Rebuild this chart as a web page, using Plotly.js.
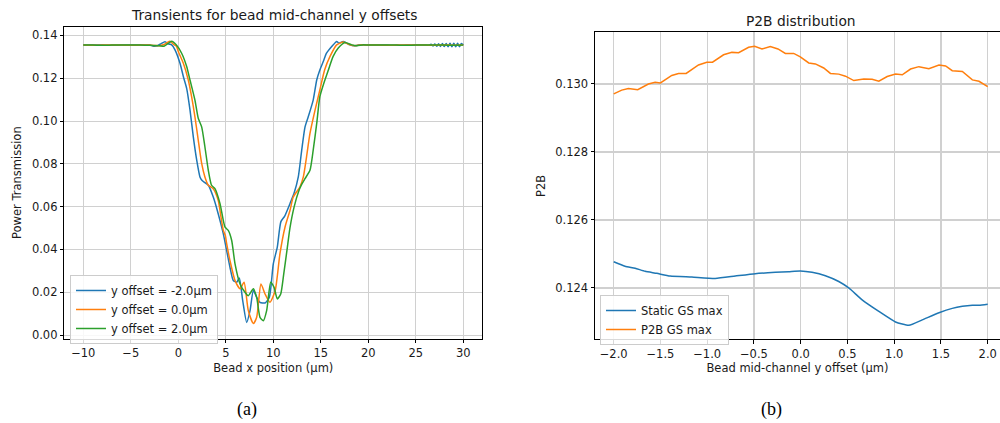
<!DOCTYPE html>
<html>
<head>
<meta charset="utf-8">
<script src="https://cdn.plot.ly/plotly-3.0.1.min.js"></script>
<style>html,body{margin:0;padding:0;background:#fff;}#chart{width:1000px;height:423px;}</style>
</head>
<body>
<div id="chart"></div>
<script>
// ---------- Panel (a): transients ----------
const seriesNamesA = ["y offset = -2.0µm", "y offset = 0.0µm", "y offset = 2.0µm"];

const blueX = [-10, -9, -8, -7, -6, -5, -4, -3, -2.6, -2.2, -1.8, -1.4, -1.0, -0.7, -0.35, 0.18, 0.53, 0.88, 1.23, 1.58, 1.94, 2.28, 2.46, 2.8, 3.16, 3.68, 4.2, 4.74, 5.09, 5.44, 5.79, 6.15, 6.42, 6.78, 7.2, 7.55, 7.9, 8.25, 8.6, 9.13, 9.58, 10.0, 10.42, 10.8, 11.2, 11.76, 12.2, 12.63, 12.99, 13.34, 13.68, 14.2, 14.57, 14.9, 15.26, 15.6, 16.15, 16.67, 16.9, 17.37, 18.07, 18.5, 19, 20, 21, 22, 23, 24, 25, 26, 26.4, 26.6, 26.8, 27.0, 27.2, 27.4, 27.6, 27.8, 28.0, 28.2, 28.4, 28.6, 28.8, 29.0, 29.2, 29.4, 29.6, 29.8, 30.0];
const blueY = [0.1355, 0.1356, 0.1355, 0.1354, 0.1355, 0.1356, 0.1355, 0.1355, 0.1350, 0.1352, 0.1362, 0.1371, 0.1360, 0.1356, 0.1333, 0.1270, 0.1208, 0.1153, 0.1052, 0.0926, 0.0817, 0.0739, 0.0725, 0.0712, 0.0700, 0.0645, 0.0567, 0.0473, 0.0395, 0.0317, 0.0255, 0.0247, 0.0267, 0.0161, 0.0059, 0.0114, 0.0208, 0.0176, 0.0153, 0.0150, 0.0176, 0.0333, 0.0411, 0.0530, 0.0556, 0.0615, 0.0665, 0.0739, 0.0864, 0.0973, 0.1020, 0.1098, 0.1192, 0.1239, 0.1278, 0.1317, 0.1348, 0.1372, 0.1364, 0.1372, 0.1356, 0.1352, 0.1355, 0.1355, 0.1356, 0.1355, 0.1354, 0.1355, 0.1356, 0.1355, 0.1355, 0.1359, 0.1351, 0.1360, 0.1350, 0.1361, 0.1349, 0.1362, 0.1348, 0.1363, 0.1347, 0.1364, 0.1347, 0.1364, 0.1347, 0.1364, 0.1347, 0.1363, 0.1356];

const orangeX = [-10, -9, -8, -7, -6, -5, -4, -3, -2.4, -2.0, -1.5, -1.2, -0.87, -0.5, -0.2, 0, 0.53, 1.05, 1.4, 1.75, 2.1, 2.46, 2.8, 3.16, 3.68, 4.2, 4.5, 4.74, 4.95, 5.09, 5.44, 5.97, 6.5, 6.92, 7.37, 7.9, 8.25, 8.7, 9.13, 9.65, 10.2, 10.7, 11.23, 11.76, 12.1, 12.8, 13.16, 13.5, 13.86, 14.4, 14.9, 15.4, 15.97, 16.67, 17.37, 18.07, 18.6, 19.2, 20, 21, 22, 23, 24, 25, 26, 27, 28, 29, 30];
const orangeY = [0.1355, 0.1354, 0.1355, 0.1356, 0.1355, 0.1354, 0.1355, 0.1355, 0.1353, 0.1352, 0.1358, 0.1366, 0.1373, 0.1358, 0.1350, 0.1325, 0.1270, 0.1192, 0.1114, 0.1020, 0.0911, 0.0802, 0.0739, 0.0700, 0.0684, 0.0630, 0.0550, 0.0489, 0.0465, 0.0427, 0.0348, 0.0255, 0.0216, 0.0247, 0.0114, 0.0054, 0.0083, 0.0239, 0.0192, 0.0153, 0.0208, 0.0380, 0.0504, 0.0583, 0.0645, 0.0692, 0.0739, 0.0833, 0.0942, 0.1052, 0.1145, 0.1239, 0.1302, 0.1356, 0.1369, 0.1356, 0.1352, 0.1356, 0.1355, 0.1355, 0.1354, 0.1355, 0.1356, 0.1355, 0.1355, 0.1354, 0.1356, 0.1354, 0.1355];

const greenX = [-10, -9, -8, -7, -6, -5, -4, -3, -2.0, -1.5, -1.1, -0.7, -0.2, 0.35, 0.88, 1.23, 1.75, 2.1, 2.46, 2.8, 3.16, 3.5, 3.86, 4.39, 4.92, 5.26, 5.62, 5.97, 6.5, 7.02, 7.37, 7.9, 8.25, 8.6, 8.95, 9.3, 9.73, 10.08, 10.42, 10.78, 11.1, 11.45, 11.75, 12.2, 12.7, 13.0, 13.34, 13.86, 14.2, 14.57, 14.9, 15.26, 15.8, 16.3, 16.84, 17.55, 18.25, 18.8, 19.4, 20, 21, 22, 23, 24, 25, 26, 27, 28, 29, 30];
const greenY = [0.1355, 0.1355, 0.1354, 0.1355, 0.1356, 0.1355, 0.1355, 0.1354, 0.1352, 0.1350, 0.1362, 0.1373, 0.1355, 0.1317, 0.1255, 0.1192, 0.1098, 0.1013, 0.0973, 0.0880, 0.0770, 0.0700, 0.0684, 0.0614, 0.0504, 0.0489, 0.0442, 0.0333, 0.0239, 0.0200, 0.0184, 0.0216, 0.0176, 0.0083, 0.0067, 0.0114, 0.0247, 0.0223, 0.0169, 0.0192, 0.0286, 0.0400, 0.0500, 0.0600, 0.0675, 0.0705, 0.0731, 0.0770, 0.0864, 0.0989, 0.1114, 0.1169, 0.1239, 0.1302, 0.1341, 0.1367, 0.1356, 0.1352, 0.1356, 0.1355, 0.1355, 0.1356, 0.1355, 0.1354, 0.1355, 0.1355, 0.1356, 0.1355, 0.1354, 0.1355];

const xTicksA = [-10, -5, 0, 5, 10, 15, 20, 25, 30];
const yTicksA = [0.00, 0.02, 0.04, 0.06, 0.08, 0.10, 0.12, 0.14];

// ---------- Panel (b): P2B distribution ----------
const seriesNamesB = ["Static GS max", "P2B GS max"];

const staticX = [-2.0, -1.879, -1.771, -1.664, -1.539, -1.396, -1.164, -0.914, -0.7, -0.486, -0.271, -0.129, -0.004, 0.121, 0.264, 0.407, 0.514, 0.657, 0.836, 1.014, 1.157, 1.3, 1.479, 1.621, 1.729, 1.836, 1.907, 2.0];
const staticY = [0.12477, 0.12464, 0.12458, 0.12449, 0.12443, 0.12435, 0.12432, 0.12428, 0.12435, 0.12442, 0.12446, 0.12448, 0.12450, 0.12446, 0.12436, 0.12419, 0.12400, 0.12365, 0.12331, 0.12300, 0.12290, 0.12306, 0.12327, 0.12340, 0.12346, 0.12349, 0.12349, 0.12352];

const p2bX = [-2.0, -1.914, -1.843, -1.743, -1.629, -1.557, -1.5, -1.379, -1.307, -1.225, -1.093, -1.004, -0.943, -0.825, -0.736, -0.664, -0.557, -0.493, -0.414, -0.325, -0.243, -0.164, -0.075, -0.004, 0.086, 0.157, 0.246, 0.318, 0.407, 0.479, 0.568, 0.675, 0.764, 0.836, 0.925, 1.014, 1.086, 1.175, 1.264, 1.371, 1.479, 1.55, 1.621, 1.729, 1.836, 1.907, 2.0];
const p2bY = [0.12971, 0.12982, 0.12987, 0.12983, 0.13000, 0.13005, 0.13003, 0.13025, 0.13031, 0.13031, 0.13056, 0.13064, 0.13064, 0.13086, 0.13093, 0.13092, 0.13108, 0.13111, 0.13103, 0.13110, 0.13103, 0.13090, 0.13090, 0.13080, 0.13062, 0.13059, 0.13047, 0.13031, 0.13029, 0.13023, 0.13010, 0.13015, 0.13014, 0.13008, 0.13022, 0.13029, 0.13027, 0.13044, 0.13051, 0.13045, 0.13056, 0.13053, 0.13039, 0.13037, 0.13012, 0.13008, 0.12992];

const xTicksB = [-2.0, -1.5, -1.0, -0.5, 0.0, 0.5, 1.0, 1.5, 2.0];
const yTicksB = [0.124, 0.126, 0.128, 0.130];

// ---------- styling ----------
const C_BLUE = '#1f77b4', C_ORANGE = '#ff7f0e', C_GREEN = '#2ca02c';
const FONT = 'DejaVu Sans, Liberation Sans, sans-serif';
const TXT = '#1a1a1a';
const FS = 11.5;

const traces = [
  {x: blueX, y: blueY, name: seriesNamesA[0], type: 'scatter', mode: 'lines', line: {color: C_BLUE, width: 1.5, shape: 'spline', smoothing: 0.6}, xaxis: 'x', yaxis: 'y', legend: 'legend'},
  {x: orangeX, y: orangeY, name: seriesNamesA[1], type: 'scatter', mode: 'lines', line: {color: C_ORANGE, width: 1.5, shape: 'spline', smoothing: 0.6}, xaxis: 'x', yaxis: 'y', legend: 'legend'},
  {x: greenX, y: greenY, name: seriesNamesA[2], type: 'scatter', mode: 'lines', line: {color: C_GREEN, width: 1.5, shape: 'spline', smoothing: 0.6}, xaxis: 'x', yaxis: 'y', legend: 'legend'},
  {x: staticX, y: staticY, name: seriesNamesB[0], type: 'scatter', mode: 'lines', line: {color: C_BLUE, width: 1.5, shape: 'spline', smoothing: 0.5}, xaxis: 'x2', yaxis: 'y2', legend: 'legend2'},
  {x: p2bX, y: p2bY, name: seriesNamesB[1], type: 'scatter', mode: 'lines', line: {color: C_ORANGE, width: 1.5}, xaxis: 'x2', yaxis: 'y2', legend: 'legend2'}
];

const axisCommon = {
  showline: true, linecolor: '#000', linewidth: 1,
  ticks: 'outside', ticklen: 3.5, tickwidth: 1, tickcolor: '#000',
  showgrid: true, gridcolor: '#d0d0d0', gridwidth: 1.1,
  zeroline: false, tickfont: {family: FONT, size: FS, color: TXT},
  fixedrange: true
};

const layout = {
  width: 1000, height: 423,
  margin: {l: 0, r: 0, t: 0, b: 0},
  paper_bgcolor: '#fff', plot_bgcolor: '#fff',
  font: {family: FONT, size: FS, color: TXT},
  xaxis: Object.assign({}, axisCommon, {
    domain: [0.0643, 0.4823], range: [-12, 32], anchor: 'y',
    tickvals: xTicksA, ticktext: xTicksA.map(v => v < 0 ? '\u2212' + Math.abs(v) : String(v)),
    mirror: true,
    title: {text: 'Bead x position (µm)', font: {family: FONT, size: FS, color: TXT}, standoff: 4}
  }),
  yaxis: Object.assign({}, axisCommon, {
    domain: [0.1993, 0.9369], range: [-0.0017, 0.1441], anchor: 'x',
    tickvals: yTicksA, ticktext: yTicksA.map(v => v.toFixed(2)),
    mirror: true,
    title: {text: 'Power Transmission', font: {family: FONT, size: FS, color: TXT}, standoff: 7}
  }),
  xaxis2: Object.assign({}, axisCommon, {
    domain: [0.595, 1.0], range: [-2.2, 2.1316], anchor: 'y2',
    tickvals: xTicksB, ticktext: xTicksB.map(v => v < 0 ? '\u2212' + Math.abs(v).toFixed(1) : v.toFixed(1)),
    mirror: true,
    title: {text: 'Bead mid-channel y offset (µm)', font: {family: FONT, size: FS, color: TXT}, standoff: 4}
  }),
  yaxis2: Object.assign({}, axisCommon, {
    domain: [0.1979, 0.9236], range: [0.12249, 0.13152], anchor: 'x2',
    tickvals: yTicksB, ticktext: yTicksB.map(v => v.toFixed(3)),
    mirror: false,
    title: {text: 'P2B', font: {family: FONT, size: FS, color: TXT}, standoff: 7}
  }),
  legend: {
    x: 0.07, y: 0.3499, xanchor: 'left', yanchor: 'top',
    bgcolor: 'rgba(255,255,255,0.85)', bordercolor: '#cccccc', borderwidth: 1,
    font: {family: FONT, size: FS, color: TXT}, tracegroupgap: 0
  },
  legend2: {
    x: 0.600, y: 0.3026, xanchor: 'left', yanchor: 'top',
    bgcolor: 'rgba(255,255,255,0.85)', bordercolor: '#cccccc', borderwidth: 1,
    font: {family: FONT, size: FS, color: TXT}, tracegroupgap: 0
  },
  annotations: [
    {text: 'Transients for bead mid-channel y offsets', xref: 'paper', yref: 'paper', x: 0.2735, y: 1 - 15/423, xanchor: 'center', yanchor: 'middle', showarrow: false, font: {family: FONT, size: 13.8, color: TXT}},
    {text: 'P2B distribution', xref: 'paper', yref: 'paper', x: 0.8007, y: 1 - 20.5/423, xanchor: 'center', yanchor: 'middle', showarrow: false, font: {family: FONT, size: 13.8, color: TXT}},
    {text: '(a)', xref: 'paper', yref: 'paper', x: 0.247, y: 1 - 409/423, xanchor: 'center', yanchor: 'middle', showarrow: false, font: {family: 'Liberation Serif, serif', size: 18, color: '#000'}},
    {text: '(b)', xref: 'paper', yref: 'paper', x: 0.7713, y: 1 - 409/423, xanchor: 'center', yanchor: 'middle', showarrow: false, font: {family: 'Liberation Serif, serif', size: 18, color: '#000'}}
  ],
  showlegend: true
};

Plotly.newPlot('chart', traces, layout, {displayModeBar: false, staticPlot: true});
</script>
</body>
</html>
